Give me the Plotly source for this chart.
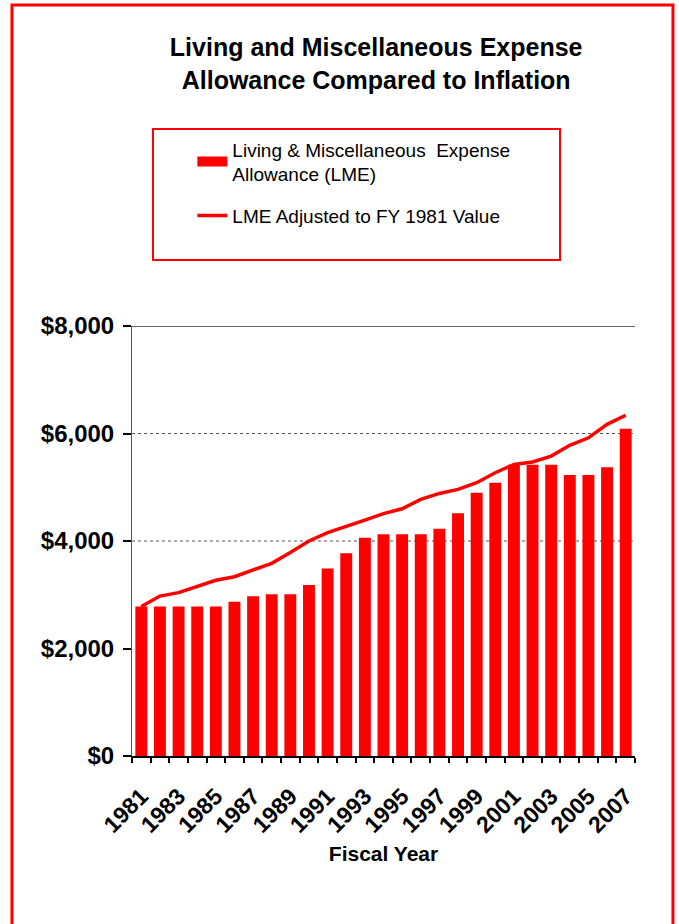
import plotly.graph_objects as go

years = list(range(1981, 2008))
lme = [2780, 2780, 2780, 2780, 2780, 2870, 2970, 3010, 3010, 3180,
       3490, 3770, 4060, 4125, 4125, 4125, 4230, 4515, 4900, 5085,
       5420, 5420, 5420, 5230, 5230, 5370, 6090]
lme_adj = [2780, 2975, 3040, 3160, 3270, 3335, 3455, 3585, 3785, 4000,
           4155, 4280, 4390, 4510, 4600, 4775, 4885, 4960, 5085, 5270,
           5425, 5470, 5580, 5780, 5920, 6170, 6340]
y_ticks = [0, 2000, 4000, 6000, 8000]
x_labels = list(range(1981, 2008, 2))
grid_dotted = [4000, 6000]
grid_solid = [8000]

RED = "#FF0000"
FONT = "Liberation Sans, Arial, sans-serif"
BAR_NAME = "Living & Miscellaneous  Expense<br>Allowance (LME)"
LINE_NAME = "LME Adjusted to FY 1981 Value"

fig = go.Figure()
fig.add_trace(go.Bar(
    x=years, y=lme, width=0.64, marker=dict(color=RED, line=dict(width=0)),
    name=BAR_NAME, showlegend=False,
))
# legend swatch for the bars (wide rectangle as in the reference)
fig.add_trace(go.Scatter(
    x=[None], y=[None], mode="lines", line=dict(color=RED, width=10),
    name=BAR_NAME, legendgroup="a", hoverinfo="skip",
))
fig.add_trace(go.Scatter(
    x=years, y=lme_adj, mode="lines", line=dict(color=RED, width=3.5),
    name=LINE_NAME, legendgroup="b",
))

shapes = []
for g in grid_dotted:
    shapes.append(dict(type="line", xref="paper", yref="y", x0=0, x1=1, y0=g, y1=g,
                       line=dict(color="#555555", width=1, dash="dot"), layer="below"))
for g in grid_solid:
    shapes.append(dict(type="line", xref="paper", yref="y", x0=0, x1=1, y0=g, y1=g,
                       line=dict(color="#333333", width=1.5), layer="below"))
# outer red frame
shapes.append(dict(type="rect", xref="paper", yref="paper", x0=-0.2386, x1=1.0755,
                   y0=-0.42, y1=1.7465, line=dict(color=RED, width=3), layer="below"))
# legend box
shapes.append(dict(type="rect", xref="paper", yref="paper", x0=0.0417, x1=0.8509,
                   y0=1.1535, y1=1.4581, line=dict(color=RED, width=2), layer="below"))

fig.update_layout(
    width=679, height=924,
    margin=dict(l=132, r=44, t=326, b=168),
    paper_bgcolor="white", plot_bgcolor="white",
    font=dict(family=FONT, color="black"),
    title=dict(
        text="Living and Miscellaneous Expense<br>Allowance Compared to Inflation",
        font=dict(family=FONT, size=25, weight="bold", color="black"),
        x=0.554, xanchor="center", xref="container",
        y=1 - 56 / 924, yanchor="top", yref="container",
    ),
    showlegend=True,
    legend=dict(
        x=0.12, y=1.455, xanchor="left", yanchor="top",
        bgcolor="rgba(0,0,0,0)", borderwidth=0,
        font=dict(family=FONT, size=19, color="black"),
        traceorder="grouped", tracegroupgap=14,
    ),
    shapes=shapes,
    bargap=0.35,
)

fig.update_xaxes(
    range=[1980.5, 2007.5],
    tickmode="array", tickvals=x_labels, ticktext=[str(v) for v in x_labels],
    tickangle=-45, ticks="", showgrid=False,
    tickfont=dict(family=FONT, size=23, weight="bold", color="black"),
    ticklabelstandoff=16,
    showline=True, linecolor="black", linewidth=1.5,
    minor=dict(ticks="outside", tick0=1980.5, dtick=1, ticklen=5,
               tickcolor="black", tickwidth=1.5, showgrid=False),
    title=dict(text="Fiscal Year", standoff=10,
               font=dict(family=FONT, size=21, weight="bold", color="black")),
    zeroline=False,
)
fig.update_yaxes(
    range=[0, 8000], tickmode="array", tickvals=y_ticks,
    ticktext=["$" + format(v, ",") for v in y_ticks],
    ticks="outside", ticklen=8, tickcolor="black", tickwidth=1.5,
    showgrid=False, zeroline=False,
    showline=True, linecolor="#555555", linewidth=1,
    tickfont=dict(family=FONT, size=24, weight="bold", color="black"),
    ticklabelstandoff=4,
)

fig.write_html("out.html")
